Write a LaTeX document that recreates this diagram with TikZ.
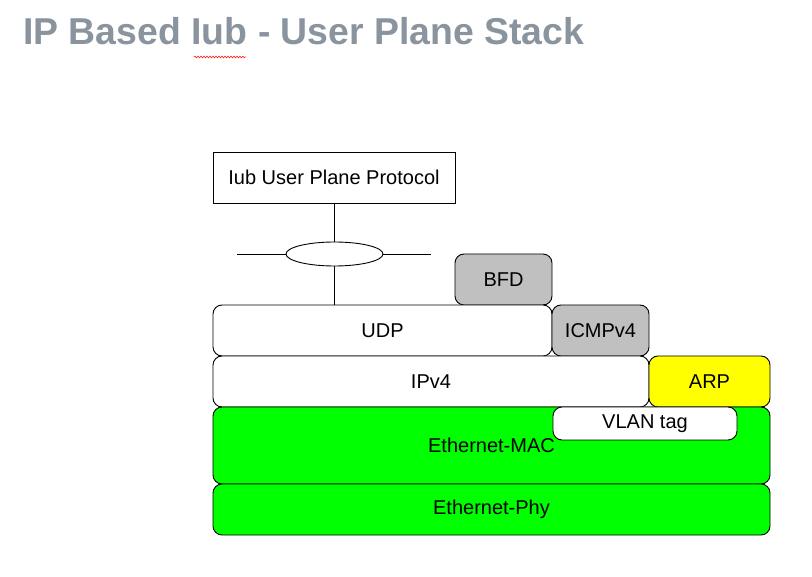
\documentclass[tikz,border=0pt]{standalone}
\usepackage{fontspec}
\setmainfont{Liberation Sans}
\usetikzlibrary{shapes.geometric,decorations.pathmorphing}
\definecolor{titlegray}{RGB}{138,148,158}
\definecolor{boxgray}{RGB}{192,192,192}
\definecolor{ethgreen}{RGB}{0,255,0}
\definecolor{arpyellow}{RGB}{255,255,0}
\begin{document}
\begin{tikzpicture}[x=1pt,y=-1pt,
  layer/.style={draw, rounded corners=9pt, line width=0.9pt, inner sep=0pt,
    font=\fontsize{20}{24}\selectfont, text=black},
  plain/.style={draw, line width=0.9pt, inner sep=0pt, font=\fontsize{20}{24}\selectfont},
  conn/.style={line width=0.9pt}]
\useasboundingbox[fill=white] (0,0) rectangle (812,577);
\node[anchor=base west, font=\bfseries\fontsize{37.4}{44}\selectfont, text=titlegray, inner sep=0pt] (title) at (23,45) {IP Based Iub - User Plane Stack};
\draw[red, decorate, decoration={snake, amplitude=0.9pt, segment length=3pt}, line width=0.5pt] (194,57) -- (246,57);

\node[plain, minimum width=242pt, minimum height=51pt] (iub) at (334,177.5) {Iub User Plane Protocol};
\node[draw, ellipse, line width=0.9pt, minimum width=97pt, minimum height=24pt, inner sep=0pt] (el) at (334.5,254) {};
\coordinate (hl) at (237,254);
\coordinate (hr) at (431,254);

\node[layer, fill=boxgray, minimum width=97pt, minimum height=51pt] (bfd) at (503.5,279.5) {BFD};
\node[layer, fill=white, minimum width=339pt, minimum height=51pt] (udp) at (382.5,330.5) {UDP};
\node[layer, fill=boxgray, minimum width=97pt, minimum height=51pt] (icmp) at (600.5,330.5) {ICMPv4};
\node[layer, fill=white, minimum width=436pt, minimum height=51pt] (ipv4) at (431,381.5) {IPv4};
\node[layer, fill=arpyellow, minimum width=121pt, minimum height=51pt] (arp) at (709.5,381.5) {ARP};
\node[layer, fill=ethgreen, minimum width=557pt, minimum height=77pt] (mac) at (491.5,445.5) {Ethernet-MAC};
\node[layer, fill=white, minimum width=184pt, minimum height=33pt] (vlan) at (645,423.5) {VLAN tag};
\node[layer, fill=ethgreen, minimum width=557pt, minimum height=51pt] (phy) at (491.5,509.5) {Ethernet-Phy};

\draw[conn] (iub.south -| el.north) -- (el.north);
\draw[conn] (el.south) -- (el.south |- udp.north);
\draw[conn] (hl) -- (el.west);
\draw[conn] (el.east) -- (hr);
\end{tikzpicture}
\end{document}
